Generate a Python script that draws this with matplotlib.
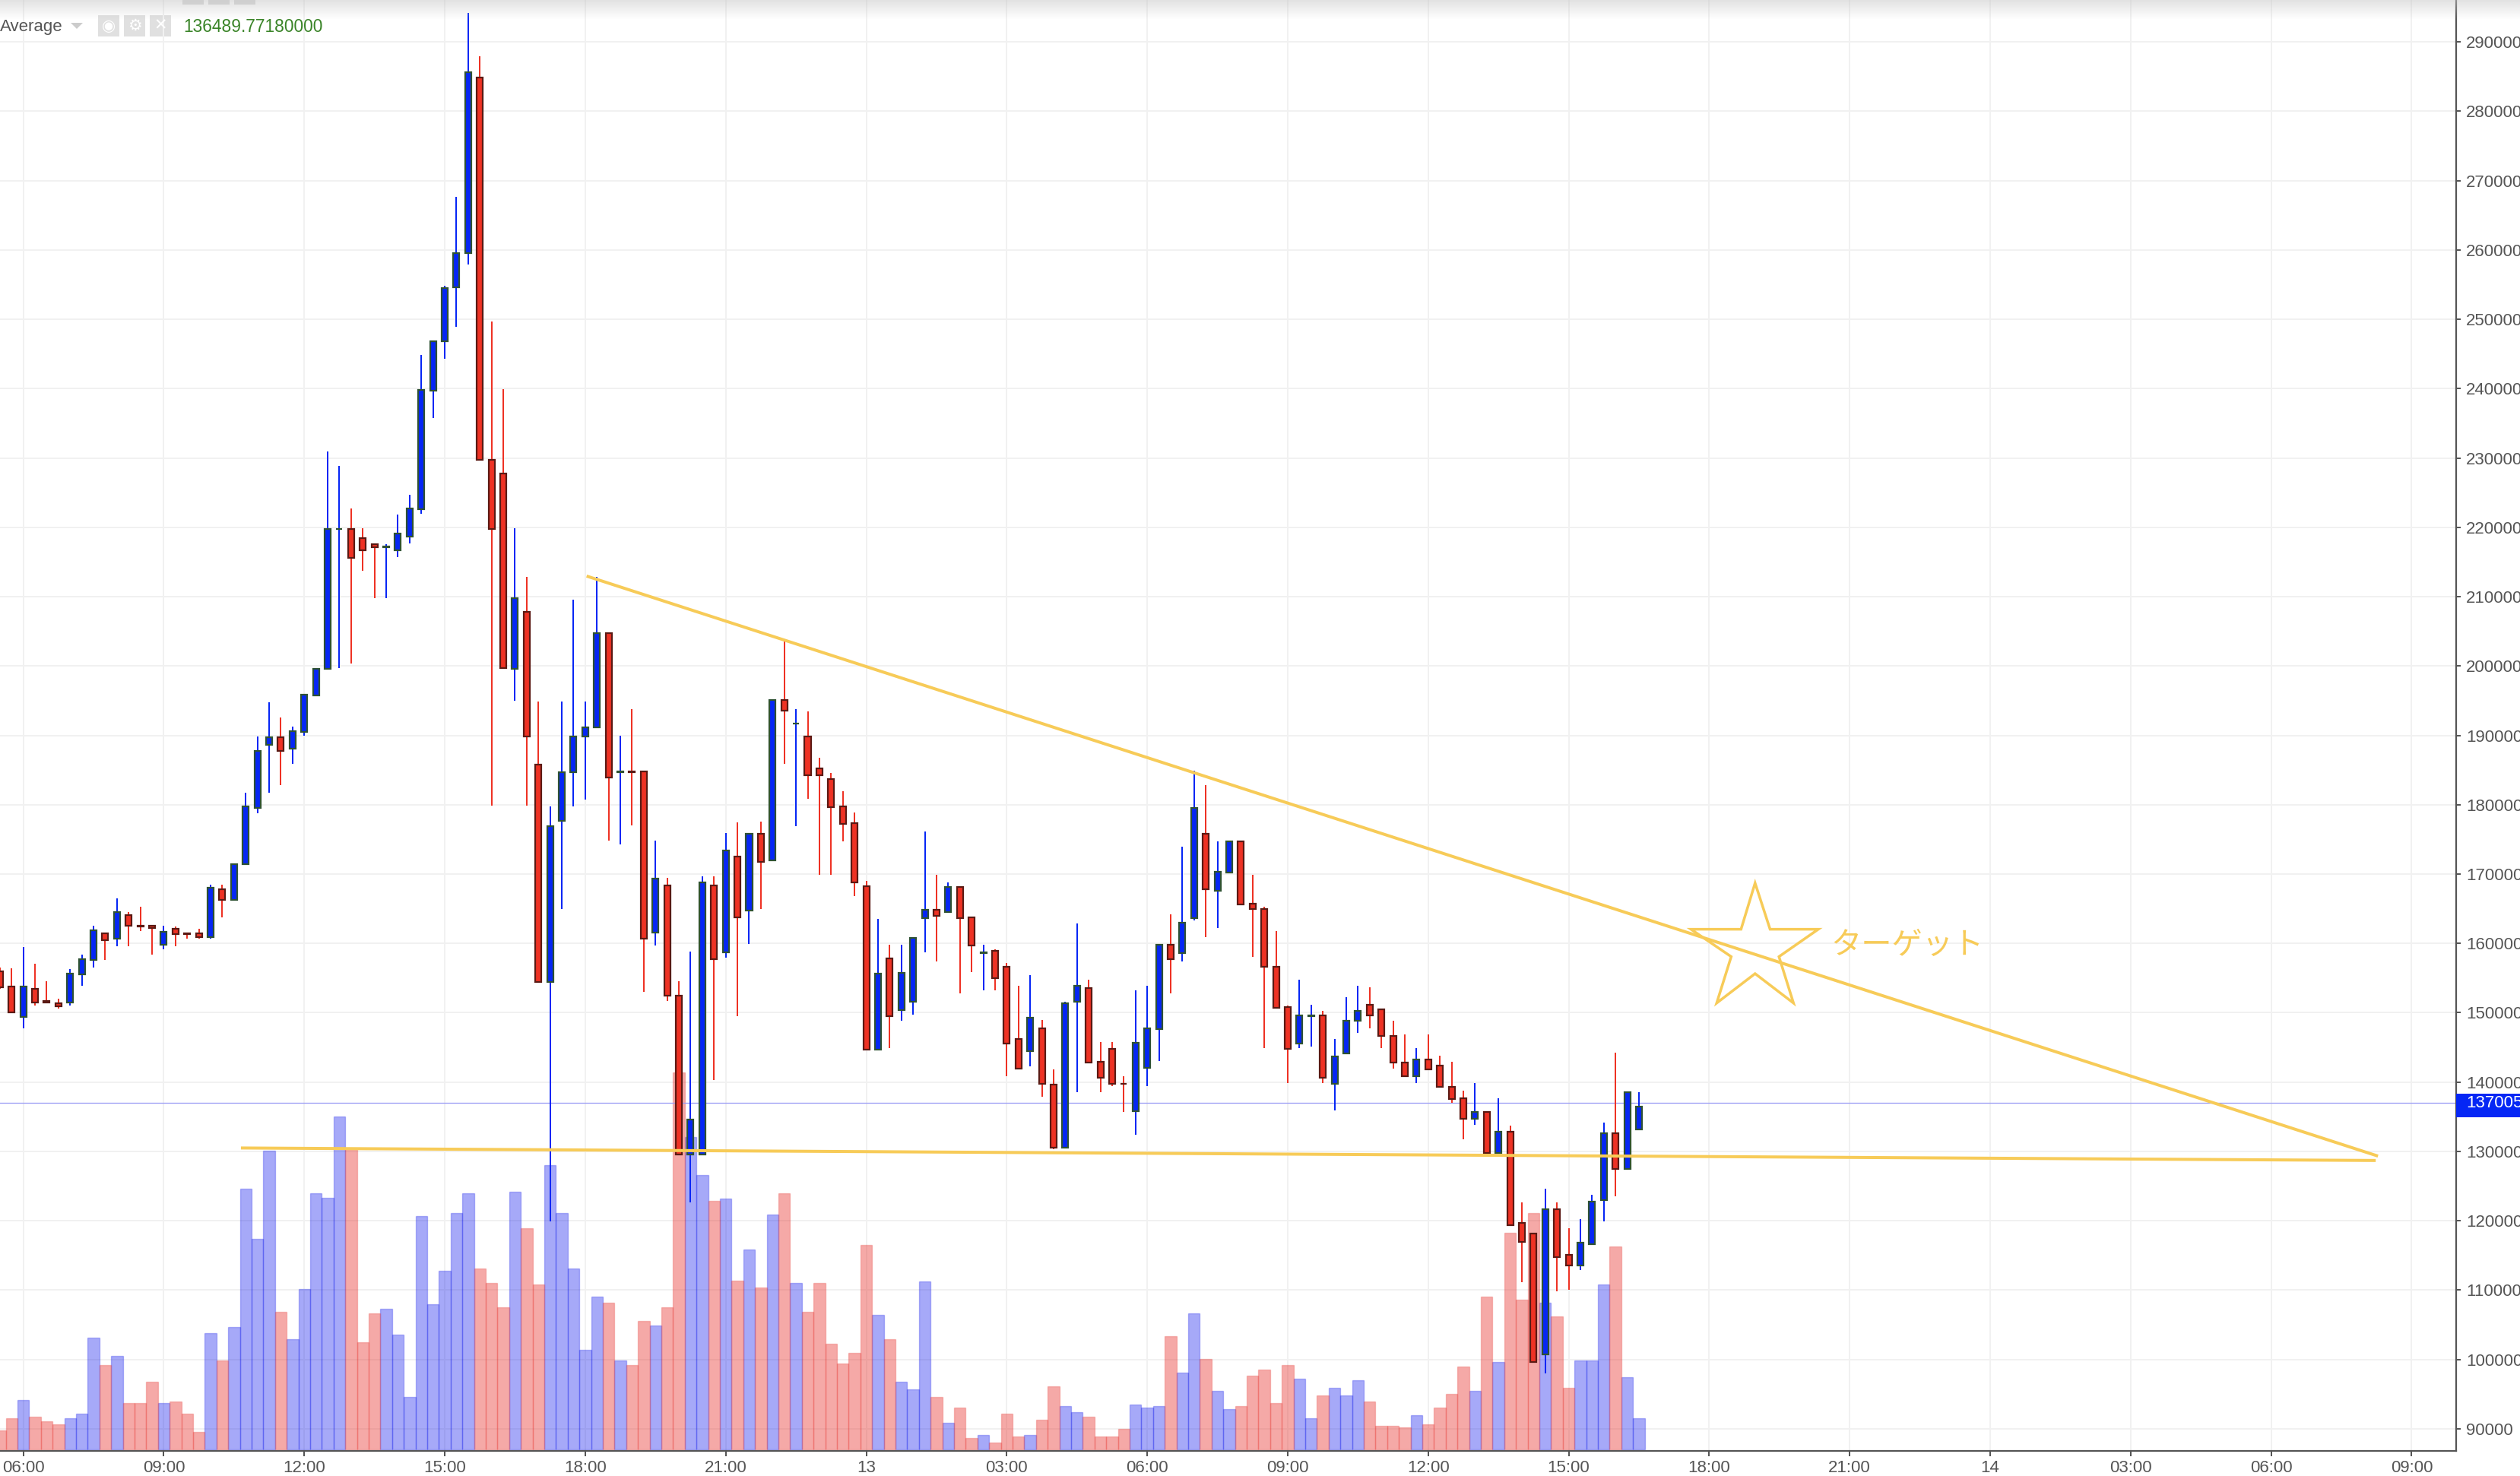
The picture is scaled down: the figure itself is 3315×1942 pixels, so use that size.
import numpy as np
import matplotlib
matplotlib.use("Agg")
import matplotlib.pyplot as plt
from matplotlib.patches import Polygon, Rectangle
from matplotlib.transforms import blended_transform_factory

W, H = 3315, 1942
DPI = 100
px = 72 / DPI  # one image pixel in points

plt.rcParams["font.family"] = ["Liberation Sans", "DejaVu Sans"]

# 15 minute candles, from 05:30 on the 12th (hours counted from 00:00 on the 12th)
first_hour = 5.5
candle_step = 0.25

opens = [
    156000, 153800, 149400, 153500, 151700, 151400, 151500, 155500, 157600, 161400,
    160700, 164100, 162600, 162600, 159800, 162100, 161500, 161400, 160900, 167800,
    166300, 171400, 179500, 188600, 189700, 188100, 190500, 195800, 199600, 219700,
    219800, 218400, 217600, 217100, 216700, 218700, 222600, 239700, 246800, 254600,
    259500, 284800, 229700, 227700, 199600, 207800, 185800, 154400, 177700, 184700,
    189800, 191100, 204700, 184700, 184800, 184800, 161600, 168400, 152500, 129600,
    129600, 168400, 158700, 172500, 164700, 175800, 172000, 195100, 191700, 189800,
    185200, 183700, 179700, 177300, 168300, 144700, 157800, 150400, 151600, 163600,
    164800, 164500, 168100, 163700, 158650, 158900, 156600, 146200, 144500, 147700,
    139600, 130600, 151600, 153600, 142900, 144800, 139800, 135800, 142100, 147600,
    159800, 158600, 163600, 175800, 167600, 170200, 174700, 165700, 165000, 156600,
    150800, 145600, 149550, 149600, 139700, 144100, 148800, 151200, 150500, 146700,
    142800, 140900, 143300, 142400, 139300, 137700, 134700, 135700, 129800, 132900,
    119700, 118200, 100700, 121700, 115100, 113600, 116600, 123000, 132600, 127500,
    133200,
]
highs = [
    156500, 156400, 159500, 157100, 154500, 152000, 156300, 158400, 162600, 161400,
    166500, 164500, 165300, 162600, 162600, 162400, 161500, 162100, 168500, 168500,
    171400, 181700, 189800, 194800, 192600, 191300, 195900, 199600, 230900, 228900,
    222700, 219900, 217600, 217600, 221800, 224700, 244900, 246800, 254800, 267700,
    294200, 287900, 249700, 239900, 219900, 212900, 194900, 179800, 194900, 209600,
    194900, 212900, 204700, 189900, 193800, 184800, 174800, 169500, 154500, 158800,
    169700, 169700, 175900, 177400, 175800, 177600, 195100, 203600, 193800, 193400,
    186800, 184600, 182000, 178900, 169000, 163500, 159800, 159800, 160800, 176100,
    169900, 168800, 168100, 163700, 159800, 159100, 157200, 153900, 155400, 149000,
    141800, 151600, 162900, 154800, 145800, 145800, 140800, 153200, 153900, 159800,
    164200, 173900, 184900, 182800, 174700, 174700, 174700, 169900, 165300, 161800,
    151000, 154800, 151200, 150300, 146200, 152300, 153900, 153700, 150500, 148900,
    146900, 144900, 146900, 143800, 142900, 138800, 139900, 135700, 137700, 133700,
    122700, 118200, 124600, 122700, 118900, 120300, 123700, 134200, 144300, 138500,
    138600,
]
lows = [
    153500, 150000, 147800, 151000, 151500, 150600, 151000, 153900, 156500, 157600,
    159600, 159600, 161800, 158400, 159100, 159600, 160700, 160700, 160700, 163700,
    166300, 171400, 178800, 181700, 182800, 185900, 190000, 195800, 199600, 199700,
    200400, 213700, 209800, 209800, 215700, 217700, 221900, 235700, 244300, 248900,
    257900, 229700, 179900, 199700, 195000, 179900, 154400, 119900, 165000, 179800,
    180700, 191100, 174800, 174300, 177000, 153000, 159700, 151700, 129600, 122700,
    129600, 140300, 157900, 149500, 159900, 165000, 171900, 185900, 176900, 180900,
    169900, 169900, 174700, 166800, 144700, 144700, 144900, 148900, 149700, 158700,
    157400, 164500, 152800, 155900, 153200, 153200, 140800, 141900, 142300, 137900,
    130300, 130600, 138500, 142800, 138500, 139400, 135700, 132400, 139400, 143000,
    152800, 157400, 163300, 160900, 162200, 170200, 165600, 158000, 144900, 150700,
    139900, 144900, 145100, 139900, 135900, 144100, 147100, 147800, 144900, 141900,
    140900, 139900, 141800, 139300, 137000, 131800, 133800, 129800, 129800, 119400,
    111200, 99600, 98000, 109800, 110100, 112900, 116600, 119900, 123500, 127500,
    133200,
]
closes = [
    153700, 150000, 153800, 151500, 151500, 150900, 155600, 157700, 161900, 160500,
    164500, 162500, 162400, 162200, 161700, 161300, 161300, 160900, 168000, 166300,
    171400, 179700, 187700, 189700, 187700, 190600, 195900, 199600, 219800, 219800,
    215600, 216700, 217100, 217200, 219100, 222700, 239800, 246800, 254500, 259500,
    285600, 229700, 219800, 199700, 209800, 189800, 154400, 176900, 184700, 189800,
    191100, 204700, 183900, 184800, 184700, 160700, 169300, 152500, 129600, 134600,
    168800, 157700, 173400, 163700, 175800, 171700, 195100, 193600, 191750, 184200,
    184200, 179600, 177200, 168800, 144700, 155600, 149500, 155800, 160800, 164800,
    164000, 168100, 163600, 159700, 158700, 155000, 145600, 141900, 149300, 139700,
    130600, 151400, 153900, 142800, 140600, 139700, 139750, 145700, 147700, 159800,
    157700, 163000, 179500, 167800, 170300, 174700, 165600, 165000, 156600, 150700,
    144800, 149600, 149600, 140600, 143700, 148800, 150300, 149600, 146700, 142800,
    140900, 143300, 141800, 139300, 137600, 134700, 135700, 129800, 132900, 119400,
    117000, 99600, 121700, 114800, 113600, 116900, 122800, 132600, 127500, 138500,
    136500,
]
# volume bars, no scale on the chart so these are relative heights
volumes = [
    47, 76, 121, 80, 69, 61, 76, 87, 274, 207,
    229, 113, 113, 166, 113, 117, 87, 43, 285, 218,
    300, 639, 516, 732, 337, 270, 393, 627, 616, 814,
    735, 262, 333, 344, 281, 128, 572, 356, 438, 579,
    627, 442, 408, 348, 631, 542, 404, 695, 579, 442,
    244, 374, 359, 218, 207, 315, 303, 348, 922, 765,
    672, 609, 613, 412, 490, 397, 575, 627, 408, 337,
    408, 259, 210, 236, 501, 330, 270, 166, 147, 411,
    128, 65, 102, 28, 35, 17, 87, 32, 35, 73,
    154, 106, 91, 80, 32, 32, 50, 110, 102, 106,
    277, 188, 333, 222, 143, 99, 106, 181, 195, 113,
    207, 173, 76, 132, 151, 132, 169, 117, 58, 58,
    54, 84, 62, 102, 136, 203, 143, 374, 214, 531,
    367, 579, 359, 326, 151, 218, 218, 404, 497, 177,
    76,
]

x_tick_hours = list(range(6, 58, 3))
x_tick_labels = ["06:00", "09:00", "12:00", "15:00", "18:00", "21:00", "13", "03:00", "06:00",
                 "09:00", "12:00", "15:00", "18:00", "21:00", "14", "03:00", "06:00", "09:00"]
y_ticks = list(range(90000, 300000, 10000))
current_price = 137005
indicator_value = "136489.77180000"

# hand drawn lines on the chart (hour, price)
resistance_hours = [18.06, 56.25]
resistance_prices = [212900, 129400]
support_hours = [10.68, 56.2]
support_prices = [130500, 128700]
star_hours = [42.98, 43.30, 44.33, 43.49, 43.80, 42.98, 42.16, 42.47, 41.61, 42.68]
star_prices = [168700, 162040, 162040, 158090, 151400, 155640, 151400, 158090, 162040, 162040]

BLUE = "#0526f5"
RED = "#ee3224"
BLUE_EDGE = "#2f5233"
RED_EDGE = "#5a1a14"
ORANGE = "#f7cb58"
AXIS = "#555555"
GRID = "#f1f1f1"

opens = np.array(opens)
highs = np.array(highs)
lows = np.array(lows)
closes = np.array(closes)
times = first_hour + candle_step * np.arange(len(opens))
up = closes >= opens

fig = plt.figure(figsize=(W / DPI, H / DPI), dpi=DPI, facecolor="white")
ax = fig.add_axes([0, 33 / H, 3231 / W, 1 - 33 / H])
x_lim = (5.503, 57.95)
y_lim = (86820, 296030)

# volume on its own hidden scale, under the candles
ax_vol = ax.twinx()
ax.set_xlim(*x_lim)
ax.set_ylim(*y_lim)
ax_vol.set_ylim(-4, 3549)
ax_vol.axis("off")
ax_vol.set_zorder(1)
ax.set_zorder(2)
ax.patch.set_visible(False)

ax.set_xticks(x_tick_hours)
ax.set_xticklabels(x_tick_labels)
ax.set_yticks(y_ticks)
ax.set_yticklabels([str(v) for v in y_ticks])
ax.yaxis.tick_right()
ax.tick_params(axis="x", length=7 * px, width=2 * px, color=AXIS, labelcolor=AXIS, labelsize=16, pad=3.5)
ax.tick_params(axis="y", length=6 * px, width=2 * px, color=AXIS, labelcolor=AXIS, labelsize=16, pad=5)
for name in ["top", "left"]:
    ax.spines[name].set_visible(False)
for name in ["right", "bottom"]:
    ax.spines[name].set_color(AXIS)
    ax.spines[name].set_linewidth(2.2 * px)

# grid has to stay under the volume bars
for h in x_tick_hours:
    ax_vol.axvline(h, color=GRID, linewidth=2 * px, zorder=0)
price_to_vol = lambda v: (v - y_lim[0]) / (y_lim[1] - y_lim[0]) * 3553 - 4
for v in y_ticks:
    ax_vol.axhline(price_to_vol(v), color=GRID, linewidth=2 * px, zorder=0)

ax_vol.bar(times[up], np.array(volumes)[up], width=candle_step, facecolor=(0.0, 0.04, 0.92, 0.35),
           edgecolor=(0.0, 0.04, 0.92, 0.25), linewidth=1.4 * px)
ax_vol.bar(times[~up], np.array(volumes)[~up], width=candle_step, facecolor=(0.9, 0.16, 0.14, 0.4),
           edgecolor=(0.9, 0.16, 0.14, 0.25), linewidth=1.4 * px)

ax.axhline(current_price, color="#9a9cf5", linewidth=1.3 * px, zorder=1)

# wicks then bodies
ax.vlines(times[up], lows[up], highs[up], color=BLUE, linewidth=2 * px, zorder=2)
ax.vlines(times[~up], lows[~up], highs[~up], color=RED, linewidth=2 * px, zorder=2)
body_w = 0.13
ax.bar(times[up], (closes - opens)[up], bottom=opens[up], width=body_w, color=BLUE,
       edgecolor=BLUE_EDGE, linewidth=2.2 * px, zorder=3)
ax.bar(times[~up], (opens - closes)[~up], bottom=closes[~up], width=body_w, color=RED,
       edgecolor=RED_EDGE, linewidth=2.2 * px, zorder=3)

ax.plot(resistance_hours, resistance_prices, color=ORANGE, linewidth=4 * px, zorder=5)
ax.plot(support_hours, support_prices, color=ORANGE, linewidth=4 * px, zorder=5)
ax.add_patch(Polygon(np.column_stack([star_hours, star_prices]), closed=True, fill=False,
                     edgecolor=ORANGE, linewidth=3.5 * px, zorder=5))
ax.text(44.6, 159700, "ターゲット", family=["Noto Sans CJK JP", "DejaVu Sans"], fontsize=29,
        color=ORANGE, va="center", ha="left", zorder=5)

# last price tag over the right axis
trans = blended_transform_factory(ax.transAxes, ax.transData)
ax.add_patch(Rectangle((1.0, 134900), 84 / 3231, 3400, transform=trans, facecolor="#0526f5",
                       edgecolor="none", clip_on=False, zorder=6))
ax.text(1 + 13 / 3231, current_price - 100, str(current_price), transform=trans, color="white", fontsize=16,
        va="center", ha="left", zorder=7, clip_on=False)

# screenshot chrome at the top
shade = fig.add_axes([0, 1 - 26 / H, 1, 26 / H], zorder=8)
gradient = np.zeros((26, 1, 4))
gradient[:, 0, :3] = 0.78
gradient[:, 0, 3] = np.linspace(0.5, 0.0, 26)
shade.imshow(gradient, aspect="auto", extent=(0, 1, 0, 1))
shade.axis("off")


def fx(x):
    return x / W


def fy(y):
    return 1 - y / H


fig.text(fx(0), fy(35), "Average", color=AXIS, fontsize=16, va="center", ha="left", zorder=9)
fig.text(fx(241), fy(35), indicator_value, color="#3a8428", fontsize=16.4, va="center", ha="left", zorder=9)
fig.add_artist(Polygon([(fx(93), fy(30)), (fx(109), fy(30)), (fx(101), fy(38))], transform=fig.transFigure,
                       facecolor="#cccccc", edgecolor="none"))
for x0, glyph in zip([129, 163, 197], ["◉", "⚙", "✕"]):
    fig.add_artist(Rectangle((fx(x0), fy(48)), 28 / W, 28 / H, transform=fig.transFigure,
                             facecolor="#e0e0e0", edgecolor="none"))
    fig.text(fx(x0 + 14), fy(34), glyph, family="DejaVu Sans", color="white", fontsize=15, fontweight="bold",
             va="center", ha="center", zorder=9)
for x0 in [240, 274, 308]:
    fig.add_artist(Rectangle((fx(x0), fy(6)), 28 / W, 6 / H, transform=fig.transFigure,
                             facecolor="#d8d8d8", edgecolor="none"))

fig.savefig("out.png", dpi=DPI)
